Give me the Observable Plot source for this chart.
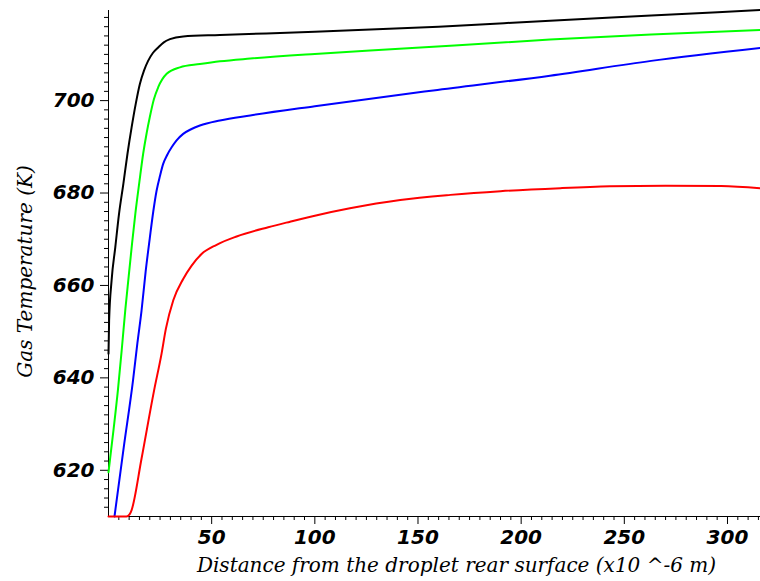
<!DOCTYPE html>
<html><head><meta charset="utf-8">
<script src="https://cdn.jsdelivr.net/npm/d3@7"></script>
<script src="https://cdn.jsdelivr.net/npm/@observablehq/plot@0.6"></script>
<style>html,body{margin:0;padding:0;background:#fff}</style>
</head><body><div id="chart"></div>
<script>
// Series (x in 1e-6 m, y in K)
const blackX = [0, 0.3, 1.5, 3.3, 5.1, 7.2, 9.2, 11.2, 13.2, 15.2, 17.2, 19.2, 21.5, 24.1, 26.8, 29.8, 36.2, 54, 100, 160, 214, 263, 316];
const blackY = [645.2, 652.4, 661.1, 668.3, 675.5, 682, 688.5, 694.2, 699.3, 703.6, 706.5, 708.6, 710.3, 711.5, 712.6, 713.3, 713.9, 714.2, 714.9, 716.0, 717.3, 718.4, 719.6];

const greenX = [0, 2.5, 4.6, 6.6, 8.2, 9.8, 11.4, 13.0, 15.0, 16.8, 18.5, 20, 22, 24.1, 28.2, 34.6, 44.3, 54, 68.7, 100, 141, 214, 263, 316];
const greenY = [619.6, 629, 637.5, 647, 655, 662, 669, 675.5, 682.5, 688.5, 693, 696.4, 700.3, 702.9, 705.8, 707.2, 707.9, 708.5, 709.1, 710.1, 711.2, 713.2, 714.3, 715.3];

const blueX = [2.9, 7.4, 11.9, 14, 16, 18, 20, 21.7, 23.3, 25, 26.5, 28.5, 30.6, 33, 36.2, 40, 44.3, 54, 68.7, 100, 157.4, 214, 263, 316];
const blueY = [610, 625, 639.5, 647.5, 654.5, 663, 670.2, 676, 680.5, 683.8, 686.3, 688.3, 689.9, 691.4, 692.8, 693.8, 694.6, 695.7, 696.8, 698.8, 702.2, 705.4, 708.6, 711.4];

const redX = [0, 8.7, 10.3, 11.2, 16, 22.1, 25.7, 27.8, 31.4, 36.2, 40.3, 45.1, 52.4, 62.1, 77.4, 88, 100, 117, 141.4, 165.7, 190, 219, 243, 270, 297, 316];
const redY = [610, 610, 610.5, 611.4, 622.5, 637.3, 645.2, 650.6, 656.8, 661.4, 664.3, 666.8, 668.8, 670.6, 672.6, 673.8, 675.1, 676.7, 678.5, 679.6, 680.4, 681.05, 681.45, 681.6, 681.5, 681.0];

const seriesNames = ["Case 1", "Case 2", "Case 3", "Case 4"];
const seriesColors = ["#000000", "#00ff00", "#0000ff", "#ff0000"];

const xTicks = [50, 100, 150, 200, 250, 300];
const yTicks = [620, 640, 660, 680, 700];
const xLabel = "Distance from the droplet rear surface (x10 ^-6 m)";
const yLabel = "Gas Temperature (K)";

const xs = [blackX, greenX, blueX, redX];
const ys = [blackY, greenY, blueY, redY];
const rows = [];
seriesNames.forEach((name, i) => {
  xs[i].forEach((x, j) => rows.push({series: name, x, y: ys[i][j]}));
});

const xMinor = d3.range(5, 316, 5).filter(v => v % 50 !== 0);
const yMinor = d3.range(612, 720, 2).filter(v => v % 20 !== 0);

const tickFont = {fontFamily: "DejaVu Sans", fontWeight: "bold", fontStyle: "italic", fontSize: 20};
const titleFont = {fontFamily: "DejaVu Serif", fontStyle: "italic", fontSize: 20, fill: "#000"};

const chart = Plot.plot({
  width: 760,
  height: 581,
  marginLeft: 108,
  marginRight: 0,
  marginTop: 10,
  marginBottom: 65,
  style: {background: "#fff", color: "#000"},
  x: {domain: [0, 316]},
  y: {domain: [610, 719.5]},
  color: {type: "ordinal", domain: seriesNames, range: seriesColors},
  marks: [
    Plot.axisX(xMinor, {tickSize: 4, tickFormat: () => "", label: null}),
    Plot.axisX(xTicks, {tickSize: 8, tickPadding: 5, label: null, ...tickFont}),
    Plot.axisY(yMinor, {tickSize: 4, tickFormat: () => "", label: null}),
    Plot.axisY(yTicks, {tickSize: 8, tickPadding: 6, label: null, ...tickFont}),
    Plot.ruleX([0], {stroke: "#000", strokeWidth: 1}),
    Plot.ruleY([610], {stroke: "#000", strokeWidth: 1}),
    Plot.line(rows, {x: "x", y: "y", z: "series", stroke: "series", strokeWidth: 2, curve: "monotone-x"}),
    Plot.text([xLabel], {text: d => d, frameAnchor: "bottom", textAnchor: "middle", dx: 22, dy: 49, lineAnchor: "middle", ...titleFont}),
    Plot.text([yLabel], {text: d => d, frameAnchor: "left", textAnchor: "middle", dx: -83, dy: 8, rotate: -90, lineAnchor: "middle", ...titleFont})
  ]
});
document.getElementById("chart").appendChild(chart);
</script>
</body></html>
